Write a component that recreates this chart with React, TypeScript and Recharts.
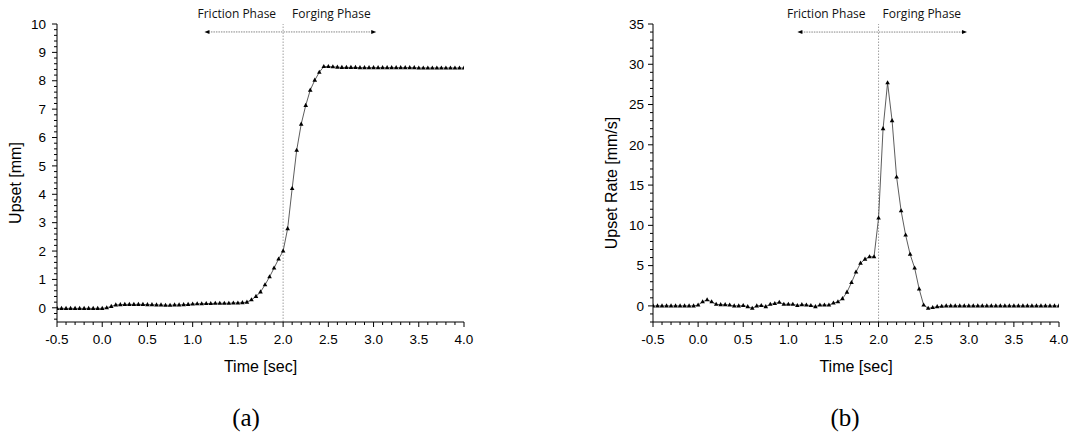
import React from "react";
import { LineChart, Line, XAxis, YAxis, ReferenceLine, Label } from "recharts";

// time axis, one sample every 0.05 s
const times = [
  -0.5, -0.45, -0.4, -0.35, -0.3, -0.25, -0.2, -0.15, -0.1, -0.05,
  0, 0.05, 0.1, 0.15, 0.2, 0.25, 0.3, 0.35, 0.4, 0.45,
  0.5, 0.55, 0.6, 0.65, 0.7, 0.75, 0.8, 0.85, 0.9, 0.95,
  1.0, 1.05, 1.1, 1.15, 1.2, 1.25, 1.3, 1.35, 1.4, 1.45,
  1.5, 1.55, 1.6, 1.65, 1.7, 1.75, 1.8, 1.85, 1.9, 1.95,
  2.0, 2.05, 2.1, 2.15, 2.2, 2.25, 2.3, 2.35, 2.4, 2.45,
  2.5, 2.55, 2.6, 2.65, 2.7, 2.75, 2.8, 2.85, 2.9, 2.95,
  3.0, 3.05, 3.1, 3.15, 3.2, 3.25, 3.3, 3.35, 3.4, 3.45,
  3.5, 3.55, 3.6, 3.65, 3.7, 3.75, 3.8, 3.85, 3.9, 3.95,
  4.0,
];

// upset [mm]
const upset = [
  -0.02, -0.02, -0.02, -0.02, -0.02, -0.02, -0.02, -0.02, -0.02, -0.02,
  -0.02, 0.0, 0.05, 0.1, 0.11, 0.12, 0.12, 0.12, 0.12, 0.12,
  0.11, 0.11, 0.1, 0.1, 0.09, 0.09, 0.1, 0.1, 0.11, 0.12,
  0.13, 0.14, 0.14, 0.15, 0.15, 0.16, 0.16, 0.16, 0.16, 0.17,
  0.17, 0.18, 0.2, 0.28, 0.4, 0.56, 0.81, 1.09, 1.4, 1.72,
  2.0, 2.79, 4.2, 5.55, 6.47, 7.13, 7.67, 8.02, 8.3, 8.5,
  8.5, 8.49, 8.48, 8.47, 8.47, 8.47, 8.47, 8.46, 8.46, 8.46,
  8.46, 8.46, 8.46, 8.46, 8.46, 8.46, 8.46, 8.46, 8.46, 8.46,
  8.45, 8.45, 8.45, 8.45, 8.45, 8.45, 8.45, 8.45, 8.45, 8.45,
  8.45,
];

// upset rate [mm/s]
const upsetRate = [
  0, 0, 0, 0, 0, 0, 0, 0, 0, 0,
  0.1, 0.5, 0.75, 0.5, 0.2, 0.15, 0.15, 0.1, 0.0, 0.0,
  0.05, -0.1, -0.3, 0.0, 0.05, -0.1, 0.2, 0.3, 0.45, 0.2,
  0.2, 0.2, 0.05, 0.15, 0.1, 0.05, -0.1, 0.1, 0.1, 0.1,
  0.35, 0.5, 0.9, 1.7, 2.9, 4.2, 5.3, 5.8, 6.1, 6.1,
  10.9, 22.0, 27.7, 23.0, 16.0, 11.8, 8.8, 6.4, 4.7, 2.1,
  0.1, -0.3, -0.2, -0.1, -0.05, 0, 0, 0, 0, 0,
  0, 0, 0, 0, 0, 0, 0, 0, 0, 0,
  0, 0, 0, 0, 0, 0, 0, 0, 0, 0,
  0,
];

const xMajor = [-0.5, 0, 0.5, 1.0, 1.5, 2.0, 2.5, 3.0, 3.5, 4.0];
const upsetMajor = [0, 1, 2, 3, 4, 5, 6, 7, 8, 9, 10];
const rateMajor = [0, 5, 10, 15, 20, 25, 30, 35];

const data = times.map((t, i) => ({ t, upset: upset[i], rate: upsetRate[i] }));

function tickRange(lo: number, hi: number, step: number) {
  const out: number[] = [];
  const n = Math.round((hi - lo) / step);
  for (let i = 0; i <= n; i++) out.push(Math.round((lo + i * step) * 1000) / 1000);
  return out;
}

const isMajor = (majors: number[], v: number) => majors.some((m) => Math.abs(m - v) < 1e-6);

const SANS = "'Liberation Sans', Arial, sans-serif";
const NOTE = "'Open Sans', 'Noto Sans', sans-serif";

const XTick = (props: any) => {
  const { x, y, payload } = props;
  const major = isMajor(xMajor, payload.value);
  return (
    <g>
      <line x1={x} x2={x} y1={y} y2={y + (major ? 5 : 3)} stroke="#000" strokeWidth={1} />
      {major && (
        <text x={x} y={y + 22} textAnchor="middle" fontFamily={SANS} fontSize={13.5} fill="#000">
          {payload.value.toFixed(1)}
        </text>
      )}
    </g>
  );
};

const makeYTick = (majors: number[], gap: number) => (props: any) => {
  const { x, y, payload } = props;
  const major = isMajor(majors, payload.value);
  return (
    <g>
      <line x1={x} x2={x - (major ? 5 : 3)} y1={y} y2={y} stroke="#000" strokeWidth={1} />
      {major && (
        <text x={x - gap} y={y + 4.7} textAnchor="end" fontFamily={SANS} fontSize={13.5} fill="#000">
          {payload.value}
        </text>
      )}
    </g>
  );
};

const Triangle = (props: any) => {
  const { cx, cy, index } = props;
  if (cx == null || cy == null) return <g key={`n${index}`} />;
  return (
    <path
      key={`d${index}`}
      d={`M${cx},${cy - 2.6} L${cx + 2.3},${cy + 1.5} L${cx - 2.3},${cy + 1.5} Z`}
      fill="#000"
    />
  );
};

const PhaseArrow = (props: any) => {
  const { x1, y1, x2 } = props;
  const a = Math.min(x1, x2);
  const b = Math.max(x1, x2);
  return (
    <g>
      <line x1={a + 4} x2={b - 4} y1={y1} y2={y1} stroke="#666" strokeWidth={0.8} strokeDasharray="1.5 1" />
      <path d={`M${a},${y1} L${a + 5},${y1 - 2} L${a + 5},${y1 + 2} Z`} fill="#000" />
      <path d={`M${b},${y1} L${b - 5},${y1 - 2} L${b - 5},${y1 + 2} Z`} fill="#000" />
    </g>
  );
};

type PanelProps = {
  dataKey: string;
  yDomain: [number, number];
  yTicks: number[];
  yMajor: number[];
  yLabel: string;
  labelGap: number;
  margin: { top: number; right: number; bottom: number; left: number };
  arrow: [number, number, number];
  frictionGap: number;
  forgingGap: number;
};

function Panel(p: PanelProps) {
  return (
    <LineChart width={535} height={432} data={data} margin={p.margin}>
      <XAxis
        dataKey="t"
        type="number"
        domain={[-0.5, 4]}
        ticks={tickRange(-0.5, 4, 0.1)}
        interval={0}
        tickSize={0}
        tickMargin={0}
        tickLine={false}
        tick={<XTick />}
        height={30}
        axisLine={{ stroke: "#000", strokeWidth: 1 }}
        allowDataOverflow
      >
        <Label
          content={(lp: any) => {
            const vb = lp.viewBox || { x: 0, y: 0, width: 0 };
            return (
              <text x={vb.x + vb.width / 2} y={vb.y + 50} textAnchor="middle" fontFamily={SANS} fontSize={16} fill="#000">
                Time [sec]
              </text>
            );
          }}
        />
      </XAxis>
      <YAxis
        type="number"
        domain={p.yDomain}
        ticks={p.yTicks}
        interval={0}
        tickSize={0}
        tickMargin={0}
        tickLine={false}
        tick={makeYTick(p.yMajor, p.labelGap)}
        width={50}
        axisLine={{ stroke: "#000", strokeWidth: 1 }}
        allowDataOverflow
      >
        <Label
          content={(lp: any) => {
            const vb = lp.viewBox || { x: 0, y: 0, height: 0 };
            const x = vb.x + 14;
            const y = vb.y + vb.height / 2 + 10;
            return (
              <text x={x} y={y} transform={`rotate(-90 ${x} ${y})`} textAnchor="middle" fontFamily={SANS} fontSize={16} fill="#000">
                {p.yLabel}
              </text>
            );
          }}
        />
      </YAxis>
      <ReferenceLine
        x={2}
        stroke="#888"
        strokeWidth={0.8}
        strokeDasharray="1.5 1.5"
        label={{
          content: (lp: any) => {
            const vb = lp.viewBox || { x: 0, y: 0 };
            return (
              <g fontFamily={NOTE} fontSize={12} fill="#111">
                <text x={vb.x - p.frictionGap} y={vb.y - 6} textAnchor="end">Friction Phase</text>
                <text x={vb.x + p.forgingGap} y={vb.y - 6} textAnchor="start">Forging Phase</text>
              </g>
            );
          },
        }}
      />
      <ReferenceLine
        segment={[
          { x: p.arrow[0], y: p.arrow[2] },
          { x: p.arrow[1], y: p.arrow[2] },
        ]}
        shape={PhaseArrow}
      />
      <Line
        type="linear"
        dataKey={p.dataKey}
        stroke="#333"
        strokeWidth={0.8}
        dot={Triangle}
        activeDot={false}
        isAnimationActive={false}
      />
    </LineChart>
  );
}

export default function App() {
  return (
    <div style={{ position: "absolute", left: 0, top: 0, width: 1070, height: 432, background: "#fff" }}>
      <div style={{ position: "absolute", left: 0, top: 0 }}>
        <Panel
          dataKey="upset"
          yDomain={[-0.5, 10]}
          yTicks={tickRange(-0.4, 10, 0.2)}
          yMajor={upsetMajor}
          yLabel="Upset [mm]"
          labelGap={11}
          margin={{ top: 24, right: 71, bottom: 80, left: 7 }}
          arrow={[1.13, 3.03, 9.72]}
          frictionGap={7}
          forgingGap={9}
        />
      </div>
      <div style={{ position: "absolute", left: 535, top: 0 }}>
        <Panel
          dataKey="rate"
          yDomain={[-2, 35]}
          yTicks={tickRange(-2, 35, 1)}
          yMajor={rateMajor}
          yLabel="Upset Rate [mm/s]"
          labelGap={9}
          margin={{ top: 24, right: 11, bottom: 80, left: 68 }}
          arrow={[1.1, 2.98, 34]}
          frictionGap={13}
          forgingGap={4}
        />
      </div>
      <svg width={1070} height={432} style={{ position: "absolute", left: 0, top: 0, pointerEvents: "none" }}>
        <text x={246} y={426} textAnchor="middle" fontFamily="'Liberation Serif', 'DejaVu Serif', serif" fontSize={25} fill="#000">(a)</text>
        <text x={845} y={426} textAnchor="middle" fontFamily="'Liberation Serif', 'DejaVu Serif', serif" fontSize={25} fill="#000">(b)</text>
      </svg>
    </div>
  );
}
